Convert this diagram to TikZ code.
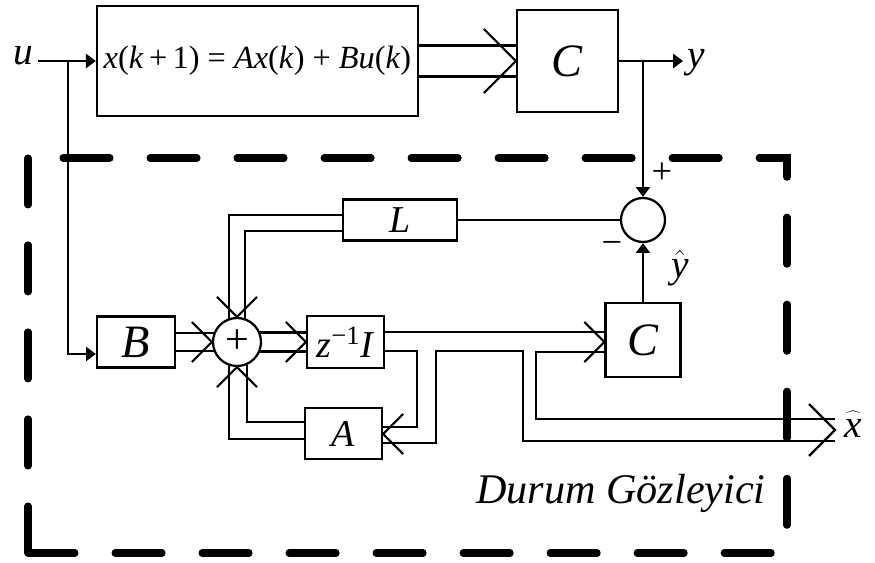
\documentclass[tikz,border=0pt]{standalone}
\usepackage{fontspec}
\setmainfont{Liberation Serif}
\usetikzlibrary{arrows.meta,calc}
\newcommand{\fs}[1]{\fontsize{#1}{#1}\selectfont}

\begin{document}
\begin{tikzpicture}[x=0.025cm,y=-0.025cm,
	every node/.style={font=\fs{26}},
	blk/.style={draw,line width=1.6pt,inner sep=0pt},
	sumnode/.style={draw,circle,line width=1.6pt,inner sep=0pt,minimum size=#1},
	sig/.style={line width=1.6pt},
	arr/.style={-{Triangle[length=7pt,width=10pt]}},
	obsframe/.style={line width=5pt,line cap=round,dash pattern=on 1.175cm off 1cm},
	chev/.pic={\draw[sig] (-#1,-#1) -- (0,0) -- (-#1,#1);}]
	\useasboundingbox (0,0) rectangle (875,563);
	% plant
	\node[blk,minimum width=8.025cm,minimum height=2.75cm,font=\fs{23}] (plant) at (257.5,61)
		{\textit{x}(\textit{k}\,+\,1) = \textit{Ax}(\textit{k}) + \textit{Bu}(\textit{k})};
	\node[blk,minimum width=2.525cm,minimum height=2.55cm,font=\fs{33}] (C1) at (567.5,61) {\textit{C}};
	\node[font=\fs{28}] (u) at (23,56) {\textit{u}};
	\node[anchor=west,inner sep=3pt,font=\fs{28}] (ylab) at (683,63) {\textit{y}};
	\coordinate (ubr) at (68,61);
	\coordinate (ybr) at (643,61);
	\draw[sig,arr] (plant.west -| u.east) -- (plant.west);
	\draw[sig] ($(plant.east)+(0,-15.5)$) -- ($(C1.west)+(0,-15.5)$);
	\draw[sig] ($(plant.east)+(0,15.5)$) -- ($(C1.west)+(0,15.5)$);
	\pic at (C1.west) {chev=32};
	\draw[sig,arr] (C1.east) -- (C1.east -| ylab.west);
	% observer
	\node[sumnode=1.1cm] (sum2) at (643,220) {};
	\node[blk,minimum width=2.85cm,minimum height=1.025cm,font=\fs{27}] (Lbox) at (400,220) {\textit{L}};
	\node[blk,minimum width=1.95cm,minimum height=1.275cm,font=\fs{33}] (Bbox) at (136,342) {\textit{B}};
	\node[sumnode=1.2cm,font=\fs{30}] (sum1) at (237,342) {+};
	\node[blk,minimum width=1.925cm,minimum height=1.3cm,font=\fs{27}] (zbox) at (345.5,342) {\textit{z}\textsuperscript{−1}\textit{I}};
	\node[blk,minimum width=1.925cm,minimum height=1.275cm,font=\fs{27}] (Abox) at (343.5,433.5) {\textit{A}};
	\node[blk,minimum width=1.875cm,minimum height=1.85cm,font=\fs{33}] (C2) at (643,340) {\textit{C}};
	\coordinate (xout) at (835,430);
	\node[font=\fs{26}] (plus) at (662,173) {+};
	\node[font=\fs{26}] (minus) at (612,248) {−};
	\node[font=\fs{28}] (yhat) at (680,268) {$\hat{\textit{y}}$};
	\node[anchor=west,font=\fs{28}] (xhat) at (840,424) {$\widehat{\vphantom{t}\textit{x}}$};
	\node[font=\fs{30}\itshape] (obs) at (621,493) {Durum Gözleyici};

	\draw[sig,arr] (ubr) |- ($(Bbox.west)+(0,12)$);
	\draw[sig,arr] (ybr) -- (sum2.north);
	\draw[sig,arr] (C2.north) -- (sum2.south);
	\draw[sig] (sum2.west) -- (Lbox.east);
	% L to sum
	\draw[sig] ($(Lbox.west)+(0,-5)$) -| ($(sum1.north)+(-8,2)$);
	\draw[sig] ($(Lbox.west)+(0,11)$) -| ($(sum1.north)+(8,2)$);
	\pic[rotate=-90] at (sum1.north) {chev=20};
	% B to sum
	\draw[sig] ($(Bbox.east)+(0,-9)$) -- ($(sum1.west)+(2,-9)$);
	\draw[sig] ($(Bbox.east)+(0,9)$) -- ($(sum1.west)+(2,9)$);
	\pic at (sum1.west) {chev=20};
	% sum to delay
	\draw[sig] ($(sum1.east)+(-2,-9.5)$) -- ($(zbox.west)+(0,-9.5)$);
	\draw[sig] ($(sum1.east)+(-2,9.5)$) -- ($(zbox.west)+(0,9.5)$);
	\pic at (zbox.west) {chev=20};
	% delay outputs
	\draw[sig] ($(zbox.east)+(0,-10)$) -- ($(C2.west)+(0,-8)$);
	\draw[sig] ($(C2.west)+(0,12)$) -- ++(-68,0) |- ($(xout)+(0,-11)$);
	\pic at ($(C2.west)+(0,2)$) {chev=20};
	\draw[sig] ($(zbox.east)+(0,9)$) -- ++(32,0) |- ($(Abox.east)+(0,-6.5)$);
	\draw[sig] ($(Abox.east)+(0,9.5)$) -| ($(zbox.east)+(51,9)$) -- ++(87,0) |- ($(xout)+(0,11)$);
	\pic[rotate=180] at ($(Abox.east)+(0,0.5)$) {chev=20};
	\pic at (xout) {chev=26};
	% A to sum
	\draw[sig] ($(Abox.west)+(0,-11.5)$) -| ($(sum1.south)+(10,-2)$);
	\draw[sig] ($(Abox.west)+(0,5.5)$) -| ($(sum1.south)+(-8,-2)$);
	\pic[rotate=90] at (sum1.south) {chev=20};
	% observer frame
	\draw[obsframe] (63,158) -- (787,158) -- (787,540);
	\draw[obsframe] (28,553) -- (28,158);
	\draw[obsframe] (28,553) -- (776,553);
\end{tikzpicture}
\end{document}
